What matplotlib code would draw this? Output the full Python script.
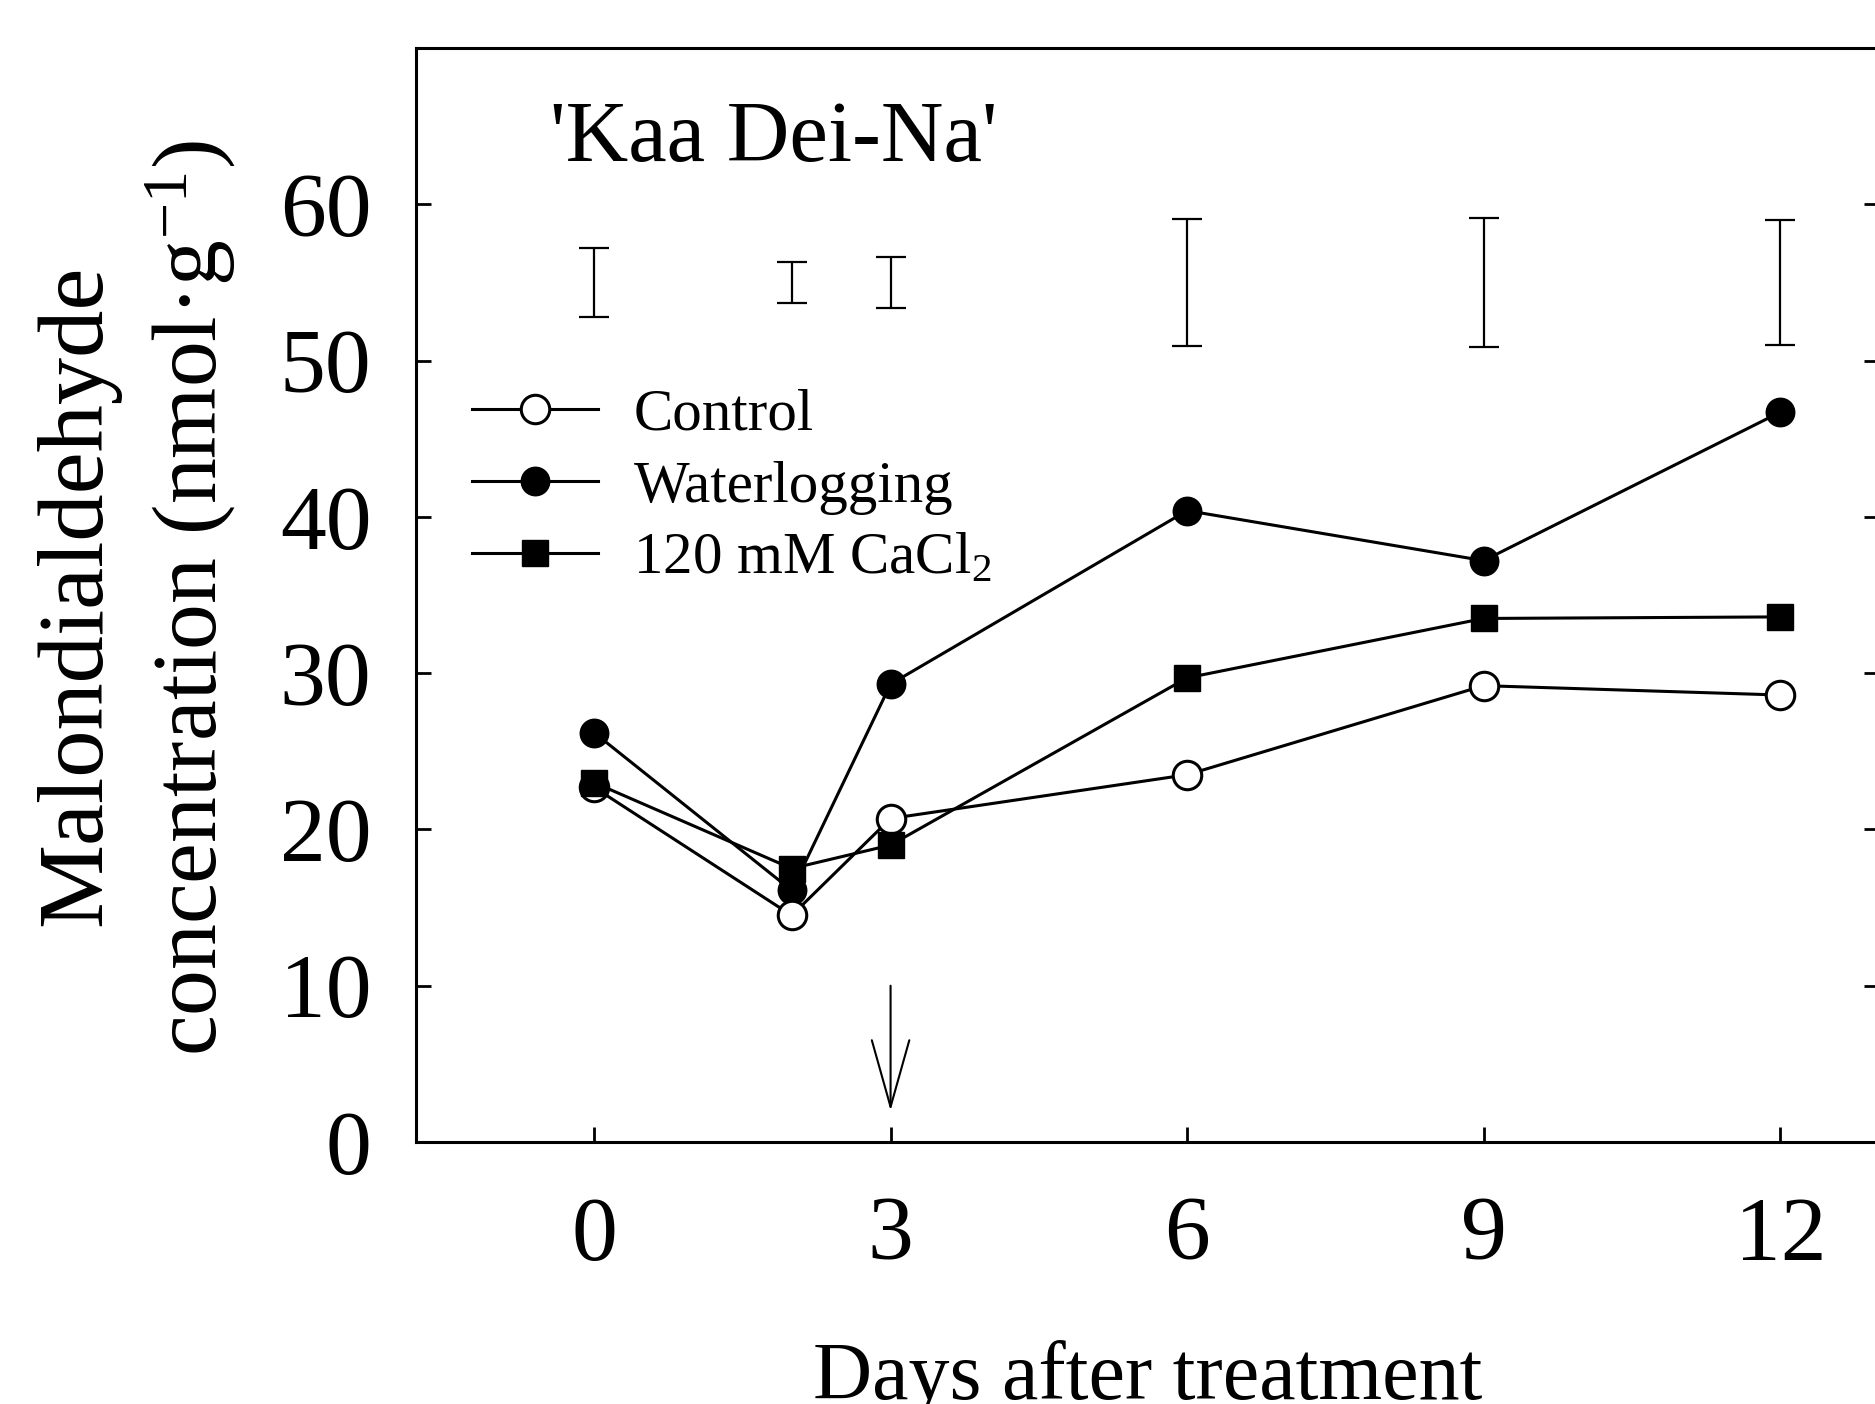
import matplotlib
matplotlib.use("Agg")
import matplotlib.pyplot as plt

plt.rcParams["font.family"] = ["Liberation Serif", "DejaVu Serif"]
plt.rcParams["mathtext.fontset"] = "custom"
plt.rcParams["mathtext.rm"] = "Liberation Serif"
plt.rcParams["mathtext.it"] = "Liberation Serif:italic"

# ---- data ----
days = [0, 2, 3, 6, 9, 12]
control = [22.7, 14.5, 20.7, 23.5, 29.2, 28.6]
waterlogging = [26.2, 16.1, 29.3, 40.4, 37.2, 46.7]
cacl2 = [23.0, 17.5, 19.0, 29.7, 33.5, 33.6]
lsd_center = [55.0, 55.0, 55.0, 55.0, 55.0, 55.0]
lsd_half = [2.2, 1.3, 1.65, 4.05, 4.15, 4.0]
xticks = [0, 3, 6, 9, 12]
yticks = [0, 10, 20, 30, 40, 50, 60]

fig = plt.figure(figsize=(18.75, 14.04), dpi=100)
ax = fig.add_axes([0.2219, 0.1866, 0.7803, 0.7792])

lw = 2.2
ax.plot(days, waterlogging, "-o", color="black", lw=lw, ms=20.5,
        mfc="black", mec="black", zorder=3, label="Waterlogging")
ax.plot(days, control, "-o", color="black", lw=lw, ms=20.5,
        mfc="white", mec="black", mew=2.2, zorder=4, label="Control")
ax.plot(days, cacl2, "-s", color="black", lw=lw, ms=19,
        mfc="black", mec="black", zorder=5, label="120 mM CaCl$_2$")

ax.errorbar(days, lsd_center, yerr=lsd_half, fmt="none", ecolor="black",
            elinewidth=1.6, capsize=11, capthick=1.6)

# treatment arrow at day 3
ax.annotate("", xy=(3, 2.0), xytext=(3, 10),
            arrowprops=dict(arrowstyle="->,head_length=4.8,head_width=1.35",
                            mutation_scale=10, lw=1.5, color="black",
                            shrinkA=0, shrinkB=0))

ax.text(0.0916, 0.897, "'Kaa Dei-Na'", transform=ax.transAxes,
        fontsize=62.5, va="baseline", ha="left")

ax.set_xlim(-1.8, 13.0)
ax.set_ylim(0, 70)
ax.set_xticks(xticks)
ax.set_yticks(yticks)
ax.tick_params(axis="both", direction="in", length=11, width=2.0,
               labelsize=66, right=True, top=False)
ax.tick_params(axis="x", pad=39)
ax.tick_params(axis="y", pad=32)
for s in ax.spines.values():
    s.set_linewidth(2.2)

h, l = ax.get_legend_handles_labels()
order = [1, 0, 2]
ax.legend([h[i] for i in order], [l[i] for i in order], loc="upper left",
          bbox_to_anchor=(0.038, 0.689), frameon=False, fontsize=42.5,
          handlelength=2.14, handletextpad=0.6, labelspacing=0.3,
          borderpad=0, borderaxespad=0, numpoints=1)

fig.text(0.0416, 0.576, "Malondialdehyde", rotation=90, fontsize=68,
         ha="center", va="center")
fig.text(0.102, 0.574, "concentration (nmol·g$^{-1}$)", rotation=90,
         fontsize=66, ha="center", va="center")
fig.text(0.612, 0.0036, "Days after treatment", fontsize=59,
         ha="center", va="baseline")

fig.savefig("out.png", dpi=100, facecolor="white")
